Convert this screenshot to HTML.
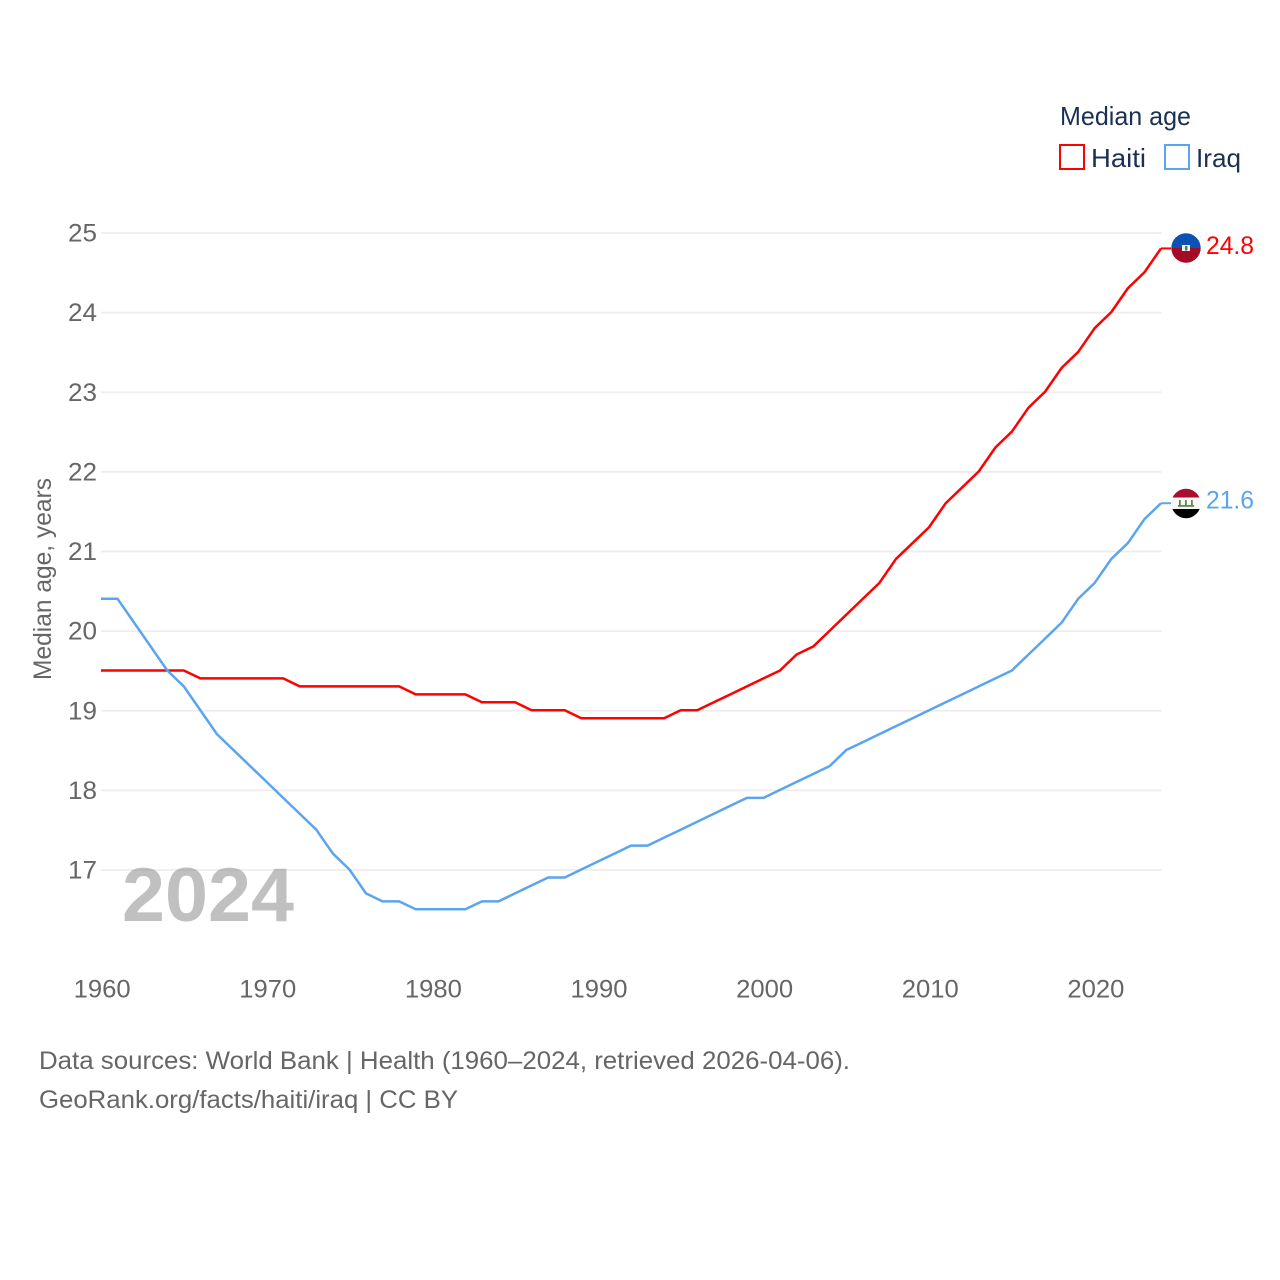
<!DOCTYPE html>
<html>
<head>
<meta charset="utf-8">
<title>Median age: Haiti and Iraq</title>
<style>
html,body{margin:0;padding:0;background:#fff;width:1280px;height:1280px;overflow:hidden}
svg{display:block}
text{font-family:"Liberation Sans",sans-serif}
</style>
</head>
<body>
<svg id="chart" width="1280" height="1280" viewBox="0 0 1280 1280" xmlns="http://www.w3.org/2000/svg">
  <rect width="1280" height="1280" fill="#fff"/>
  <g id="grid"></g>
  <g id="yticks"></g>
  <g id="xticks"></g>
  <text transform="translate(51,680) rotate(-90)" font-size="25" fill="#666" textLength="202" lengthAdjust="spacingAndGlyphs">Median age, years</text>
  <text x="122" y="921" font-size="76" font-weight="700" fill="#8c8c8c" fill-opacity="0.55" textLength="172" lengthAdjust="spacingAndGlyphs">2024</text>
  <g id="series"></g>

  <g>
    <text x="1060" y="125" font-size="26" fill="#1b3153" textLength="131" lengthAdjust="spacingAndGlyphs">Median age</text>
    <g>
      <rect x="1060" y="145" width="24" height="24" fill="#fff" stroke="#ff0000" stroke-width="2"/>
      <text x="1091" y="167" font-size="26" fill="#1b3153" textLength="55" lengthAdjust="spacingAndGlyphs">Haiti</text>
    </g>
    <g>
      <rect x="1165" y="145" width="24" height="24" fill="#fff" stroke="#5ba4ee" stroke-width="2"/>
      <text x="1196" y="167" font-size="26" fill="#1b3153" textLength="45" lengthAdjust="spacingAndGlyphs">Iraq</text>
    </g>
  </g>

  <defs>
    <clipPath id="flag-clip-haiti"><circle cx="1186" cy="248" r="14.7"/></clipPath>
    <clipPath id="flag-clip-iraq"><circle cx="1186" cy="503.5" r="14.7"/></clipPath>
  </defs>
  <g id="flag-haiti" clip-path="url(#flag-clip-haiti)">
    <rect x="1171" y="233" width="30" height="15" fill="#0a52b4"/>
    <rect x="1171" y="248" width="30" height="15" fill="#a50a26"/>
    <rect x="1182" y="245" width="8" height="6" fill="#f4f4f4"/>
    <rect x="1185" y="246" width="2.4" height="4.5" fill="#4d7a5c"/>
  </g>
  <g id="flag-iraq" clip-path="url(#flag-clip-iraq)">
    <rect x="1171" y="488" width="30" height="9.5" fill="#ab0f2e"/>
    <rect x="1171" y="497.5" width="30" height="11.5" fill="#f6f6f6"/>
    <rect x="1171" y="509" width="30" height="10" fill="#000"/>
    <rect x="1178" y="505" width="16" height="1.8" fill="#5d8a50"/>
    <rect x="1179" y="500" width="1.8" height="5" fill="#5d8a50"/>
    <rect x="1185" y="500" width="1.8" height="5" fill="#5d8a50"/>
    <rect x="1191" y="500" width="1.8" height="5" fill="#5d8a50"/>
  </g>

  <text x="39" y="1069" font-size="25" fill="#666" textLength="811" lengthAdjust="spacingAndGlyphs">Data sources: World Bank | Health (1960–2024, retrieved 2026-04-06).</text>
  <text x="39" y="1108" font-size="25" fill="#666" textLength="419" lengthAdjust="spacingAndGlyphs">GeoRank.org/facts/haiti/iraq | CC BY</text>
</svg>
<script>
const years = [1960,1961,1962,1963,1964,1965,1966,1967,1968,1969,1970,1971,1972,1973,1974,1975,1976,1977,1978,1979,1980,1981,1982,1983,1984,1985,1986,1987,1988,1989,1990,1991,1992,1993,1994,1995,1996,1997,1998,1999,2000,2001,2002,2003,2004,2005,2006,2007,2008,2009,2010,2011,2012,2013,2014,2015,2016,2017,2018,2019,2020,2021,2022,2023,2024];
const haitiValues = [19.5,19.5,19.5,19.5,19.5,19.5,19.4,19.4,19.4,19.4,19.4,19.4,19.3,19.3,19.3,19.3,19.3,19.3,19.3,19.2,19.2,19.2,19.2,19.1,19.1,19.1,19.0,19.0,19.0,18.9,18.9,18.9,18.9,18.9,18.9,19.0,19.0,19.1,19.2,19.3,19.4,19.5,19.7,19.8,20.0,20.2,20.4,20.6,20.9,21.1,21.3,21.6,21.8,22.0,22.3,22.5,22.8,23.0,23.3,23.5,23.8,24.0,24.3,24.5,24.8];
const iraqValues = [20.4,20.4,20.1,19.8,19.5,19.3,19.0,18.7,18.5,18.3,18.1,17.9,17.7,17.5,17.2,17.0,16.7,16.6,16.6,16.5,16.5,16.5,16.5,16.6,16.6,16.7,16.8,16.9,16.9,17.0,17.1,17.2,17.3,17.3,17.4,17.5,17.6,17.7,17.8,17.9,17.9,18.0,18.1,18.2,18.3,18.5,18.6,18.7,18.8,18.9,19.0,19.1,19.2,19.3,19.4,19.5,19.7,19.9,20.1,20.4,20.6,20.9,21.1,21.4,21.6];
const yTickLabels = [17,18,19,20,21,22,23,24,25];
const xTickLabels = [1960,1970,1980,1990,2000,2010,2020];

const NS = 'http://www.w3.org/2000/svg';
const xScale = year => 101 + (year - 1960) * (1060 / 64);
const yScale = value => 233 + (25 - value) * (637 / 8);
function make(tag, parent, attrs, text) {
  const el = document.createElementNS(NS, tag);
  for (const k in attrs) el.setAttribute(k, attrs[k]);
  if (text !== undefined) el.textContent = text;
  parent.appendChild(el);
  return el;
}
const grid = document.getElementById('grid');
const yticks = document.getElementById('yticks');
const xticks = document.getElementById('xticks');
const seriesGroup = document.getElementById('series');

yTickLabels.forEach(t => {
  const line = make('line', grid, {x1:101, x2:1161.5, y1:yScale(t), y2:yScale(t), stroke:'#ededed', 'stroke-width':1.8});
  
  
  const label = make('text', yticks, {x:97, y:yScale(t) + 8.5, 'font-size':25, fill:'#666', 'text-anchor':'end', textLength:29, lengthAdjust:'spacingAndGlyphs'}, String(t));
  
  
});
xTickLabels.forEach(t => {
  const label = make('text', xticks, {x:xScale(t) + 1.2, y:997.5, 'font-size':25, fill:'#666', 'text-anchor':'middle', textLength:57, lengthAdjust:'spacingAndGlyphs'}, String(t));
  
  
});

function drawSeries(name, values, color) {
  const pts = values.map((v, i) => xScale(years[i]).toFixed(2) + ',' + (yScale(v) - 0.5).toFixed(2)).join(' ');
  const line = make('polyline', seriesGroup, {points:pts, fill:'none', stroke:color, 'stroke-width':2.5, 'stroke-linejoin':'round'});
  
  
  const last = values[values.length - 1];
  const lastY = yScale(last) - 0.5;
  const lastX = xScale(years[years.length - 1]);
  const leader = make('line', seriesGroup, {x1:lastX, x2:lastX + 10, y1:lastY, y2:lastY, stroke:color, 'stroke-width':2});
  
  
  const label = make('text', seriesGroup, {x:1206, y:lastY + 5.5, 'font-size':25, fill:color, textLength:48, lengthAdjust:'spacingAndGlyphs'}, last.toFixed(1));
  
  
}
drawSeries('haiti', haitiValues, '#ff0000');
drawSeries('iraq', iraqValues, '#5ba4ee');
</script>
</body>
</html>
